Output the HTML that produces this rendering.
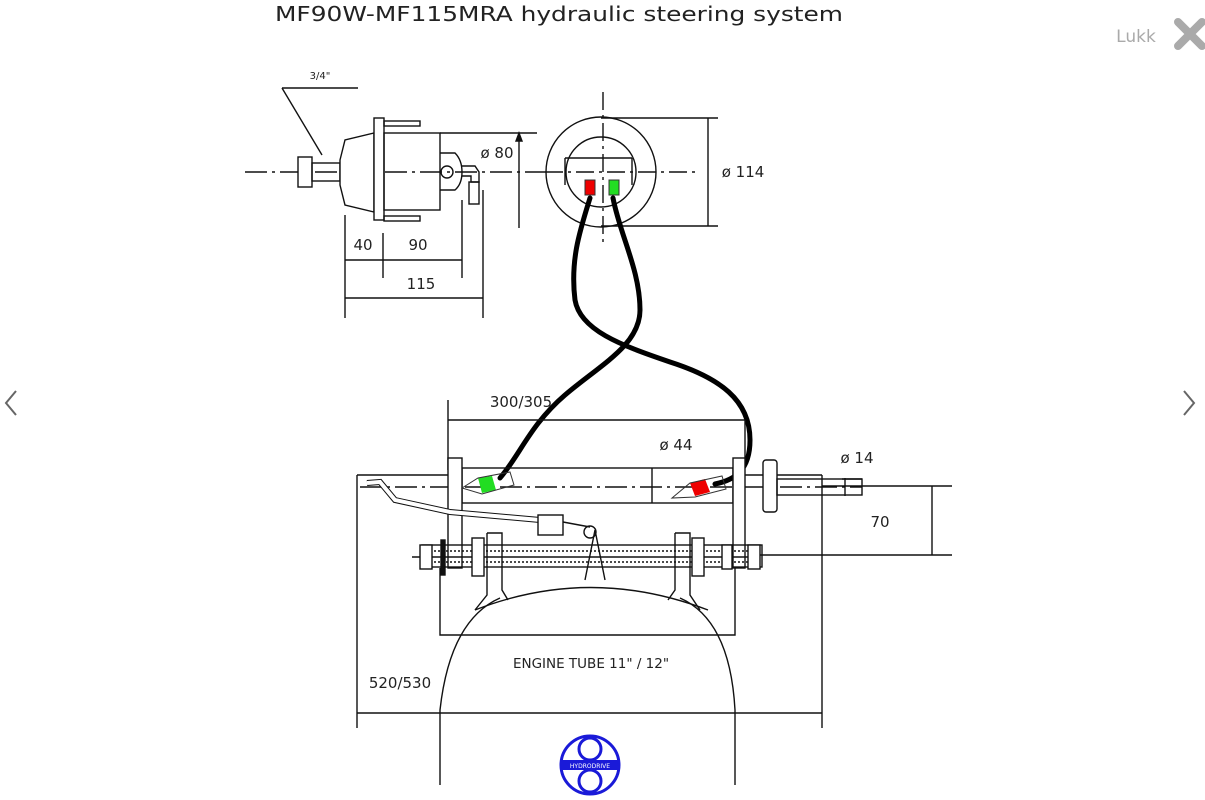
<!DOCTYPE html>
<html><head><meta charset="utf-8"><style>
html,body{margin:0;padding:0;background:#fff;width:1205px;height:800px;overflow:hidden}
svg{display:block}
text{font-family:"DejaVu Sans","Liberation Sans",sans-serif;fill:#222}
</style></head><body>
<svg width="1205" height="800" viewBox="0 0 1205 800" xmlns="http://www.w3.org/2000/svg">
<text x="275" y="21" font-size="20" textLength="568" lengthAdjust="spacingAndGlyphs" fill="#333">MF90W-MF115MRA hydraulic steering system</text>
<text x="1136" y="42" font-size="17" text-anchor="middle" style="fill:#aaa">Lukk</text>
<path d="M1178 22 L1202 46 M1202 22 L1178 46" stroke="#aaa" stroke-width="8" stroke-linecap="round"/>
<path d="M16 391 L6 403 L16 415" stroke="#666" stroke-width="2" fill="none"/>
<path d="M1184 391 L1194 403 L1184 415" stroke="#666" stroke-width="2" fill="none"/>

<g stroke="#111" stroke-width="1.4" fill="none">
<line x1="245" y1="172" x2="545" y2="172" stroke-dasharray="22,5,3,5"/>
<line x1="282" y1="88" x2="358" y2="88"/>
<line x1="282" y1="88" x2="322" y2="155"/>
<rect x="298" y="157" width="14" height="30" fill="#fff"/>
<rect x="312" y="163" width="28" height="18"/>
<path d="M340 160 L345 140 L374 133 L374 212 L345 205 L340 185 Z" fill="#fff"/>
<rect x="374" y="118" width="10" height="102" fill="#fff"/>
<rect x="384" y="133" width="56" height="77"/>
<rect x="384" y="121" width="36" height="5"/>
<rect x="384" y="216" width="36" height="5"/>
<path d="M440 153 L455 153 Q462 160 462 172 Q462 184 455 190 L440 190"/>
<circle cx="447" cy="172" r="6"/>
<path d="M462 166 L475 166 L479 172 L479 182 L471 182 L471 176 L462 176"/>
<rect x="469" y="182" width="10" height="22"/>
<line x1="440" y1="133" x2="537" y2="133"/>
<line x1="519" y1="136" x2="519" y2="228"/>
<path d="M519 133 l-3 8 h6 z" fill="#111"/>
<line x1="345" y1="215" x2="345" y2="318"/>
<line x1="383" y1="233" x2="383" y2="278"/>
<line x1="462" y1="200" x2="462" y2="278"/>
<line x1="483" y1="190" x2="483" y2="318"/>
<line x1="345" y1="260" x2="462" y2="260"/>
<line x1="345" y1="298" x2="483" y2="298"/>
<circle cx="601" cy="172" r="55"/>
<circle cx="601" cy="172" r="35"/>
<line x1="565" y1="158" x2="632" y2="158"/>
<line x1="565" y1="158" x2="565" y2="185"/>
<line x1="632" y1="158" x2="632" y2="185"/>
<line x1="545" y1="172" x2="695" y2="172" stroke-dasharray="18,5,3,5"/>
<line x1="603" y1="92" x2="603" y2="245" stroke-dasharray="18,5,3,5"/>
<line x1="601" y1="118" x2="718" y2="118"/>
<line x1="601" y1="226" x2="718" y2="226"/>
<line x1="708" y1="118" x2="708" y2="226"/>
</g>
<g font-size="15">
<text x="320" y="79" font-size="10" text-anchor="middle">3/4"</text>
<text x="497" y="158" text-anchor="middle">ø 80</text>
<text x="743" y="177" text-anchor="middle">ø 114</text>
<text x="363" y="250" text-anchor="middle">40</text>
<text x="418" y="250" text-anchor="middle">90</text>
<text x="421" y="289" text-anchor="middle">115</text>
</g>
<rect x="585" y="180" width="10" height="15" fill="#e00" stroke="#333"/>
<rect x="609" y="180" width="10" height="15" fill="#2d2" stroke="#333"/>

<g stroke="#000" stroke-width="5" fill="none" stroke-linecap="round">
<path d="M590 198 C580 230 570 260 575 300 C580 330 620 345 670 362 C720 378 750 400 750 440 C750 470 735 480 715 484"/>
<path d="M613 198 C620 235 640 270 640 310 C640 345 600 365 565 395 C530 425 520 455 500 478"/>
</g>

<g stroke="#111" stroke-width="1.4" fill="none">
<line x1="357" y1="475" x2="452" y2="475"/>
<line x1="357" y1="475" x2="357" y2="728"/>
<line x1="822" y1="475" x2="822" y2="728"/>
<line x1="357" y1="713" x2="822" y2="713"/>
<line x1="745" y1="475" x2="822" y2="475"/>
<line x1="448" y1="400" x2="448" y2="470"/>
<line x1="745" y1="420" x2="745" y2="460"/>
<line x1="448" y1="420" x2="745" y2="420"/>
<rect x="462" y="468" width="271" height="35"/>
<line x1="652" y1="468" x2="652" y2="503"/>
<line x1="360" y1="487" x2="862" y2="487" stroke-dasharray="22,5,3,5"/>
<rect x="448" y="458" width="14" height="110" fill="#fff"/>
<rect x="733" y="458" width="12" height="110" fill="#fff"/>
<rect x="763" y="460" width="14" height="52" rx="3" fill="#fff"/>
<rect x="777" y="479" width="85" height="16"/>
<line x1="842" y1="479" x2="862" y2="479"/>
<line x1="822" y1="486" x2="952" y2="486"/>
<line x1="760" y1="555" x2="952" y2="555"/>
<line x1="932" y1="486" x2="932" y2="555"/>
<line x1="845" y1="478" x2="845" y2="496"/>
<path d="M367 483 L380 482 L395 500 L450 512 L540 520" stroke-width="6" stroke="#111"/>
<path d="M367 483 L380 482 L395 500 L450 512 L540 520" stroke-width="4" stroke="#fff"/>
<rect x="538" y="515" width="25" height="20" fill="#fff"/>
<path d="M563 522 L590 527" />
<circle cx="590" cy="532" r="6"/>
<line x1="412" y1="557" x2="760" y2="557"/>
<rect x="422" y="545" width="340" height="22"/>
<line x1="422" y1="551" x2="762" y2="551" stroke-dasharray="2,2"/>
<line x1="422" y1="562" x2="762" y2="562" stroke-dasharray="2,2"/>
<rect x="420" y="545" width="12" height="24" fill="#fff"/>
<rect x="441" y="540" width="4" height="35" fill="#111"/>
<rect x="472" y="538" width="12" height="38" fill="#fff"/>
<rect x="692" y="538" width="12" height="38" fill="#fff"/>
<rect x="722" y="545" width="10" height="24" fill="#fff"/>
<rect x="748" y="545" width="12" height="24" fill="#fff"/>
<path d="M487 533 L502 533 L502 590 L508 600 M487 533 L487 595 L475 610"/>
<path d="M675 533 L690 533 L690 595 L700 610 M675 533 L675 590 L668 600"/>
<path d="M585 580 L595 530 L605 580"/>
<path d="M440 568 L440 635 L735 635 L735 568"/>
<path d="M475 610 Q590 565 708 610"/>
<path d="M440 785 L440 710 Q450 620 500 598 M680 598 Q730 620 735 710 L735 785"/>
</g>
<g font-size="15">
<text x="521" y="407" text-anchor="middle">300/305</text>
<text x="676" y="450" text-anchor="middle">ø 44</text>
<text x="857" y="463" text-anchor="middle">ø 14</text>
<text x="880" y="527" text-anchor="middle">70</text>
<text x="591" y="668" font-size="13.5" text-anchor="middle">ENGINE TUBE 11" / 12"</text>
<text x="400" y="688" text-anchor="middle">520/530</text>
</g>
<path d="M478 478 L492 476 L496 490 L482 493 Z" fill="#2d2"/>
<path d="M690 483 L705 479 L710 492 L695 496 Z" fill="#e00"/>
<g stroke="#333" fill="none" stroke-width="1">
<path d="M462 488 L478 478 L510 472 L514 485 L482 494 Z"/>
<path d="M672 498 L690 483 L722 476 L726 489 L695 497 Z"/>
</g>
<g stroke="#1a1ad8" stroke-width="3" fill="none">
<circle cx="590" cy="765" r="29"/>
<circle cx="590" cy="749" r="11"/>
<circle cx="590" cy="781" r="11"/>
</g>
<rect x="561" y="760" width="58" height="10" fill="#1a1ad8"/>
<text x="590" y="768" font-size="6" text-anchor="middle" style="fill:#fff">HYDRODRIVE</text>
</svg>
</body></html>
